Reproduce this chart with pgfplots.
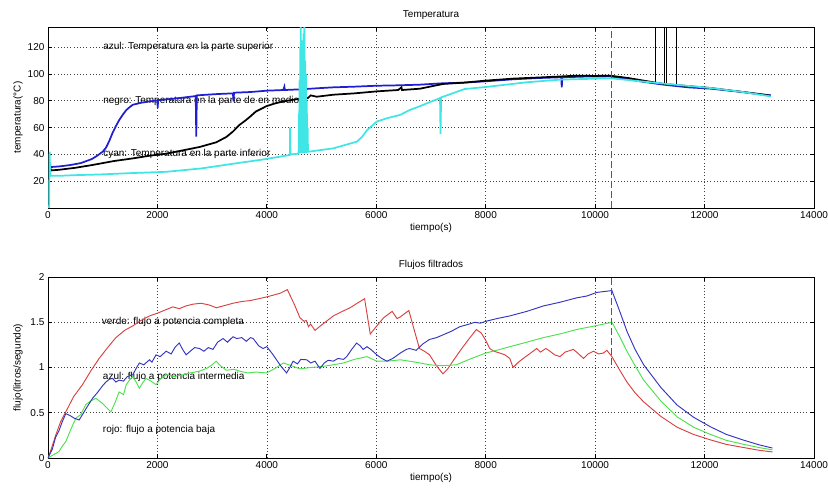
\documentclass[border=0pt]{standalone}
\usepackage{fontspec}
\setmainfont{Liberation Sans}
\usepackage{pgfplots}
\pgfplotsset{compat=1.18}
\definecolor{tblue}{rgb}{0.12,0.12,0.82}
\definecolor{tcyan}{rgb}{0.25,0.9,0.9}
\definecolor{fred}{rgb}{0.85,0.25,0.25}
\definecolor{fgreen}{rgb}{0.3,0.88,0.3}
\definecolor{fblue}{rgb}{0.2,0.2,0.75}
\pgfplotsset{mstyle/.style={
  scale only axis, width=574.5pt, height=135.75pt,
  xmin=0, xmax=14000, xtick={0,2000,...,14000},
  grid=major, major grid style={dotted, black!75, line width=0.5pt},
  tick align=inside, xtick pos=both, ytick pos=both,
  major tick length=3pt, axis line style={line width=0.6pt},
  tick style={black, line width=0.6pt},
  scaled ticks=false,
  /pgf/number format/1000 sep={},
  /pgf/number format/assume math mode=true,
  every axis title shift=0pt,
  xlabel style={at={(axis description cs:0.5,-0.11)}, anchor=center},
  ylabel style={at={(axis description cs:-0.039,0.5)}, anchor=center},
  title style={at={(axis description cs:0.5,1.066)}, anchor=center},
  clip=true,
}}
\begin{document}
\fontsize{7.5}{9}\selectfont
\begin{tikzpicture}
\useasboundingbox (0,0) rectangle (621pt,365.25pt);
% ---------------- Top axis ----------------
\begin{axis}[mstyle, at={(36pt,209.25pt)}, anchor=south west,
  ymin=0, ymax=135, ytick={20,40,...,120},
  title={Temperatura}, xlabel={tiempo(s)}, ylabel={temperatura(°C)}]
\node[anchor=west, inner sep=0pt] at (axis cs:1005,120) {azul: Temperatura en la parte superior};
\node[anchor=west, inner sep=0pt] at (axis cs:1005,80) {negro: Temperatura en la parte de en medio};
\node[anchor=west, inner sep=0pt] at (axis cs:1005,40) {cyan: Temperatura en la parte inferior};
\addplot[tblue, line width=1.3pt] coordinates {
(30,30.5) (200,31) (400,32) (600,33.5) (800,36.5) (900,39) (1000,42) (1060,45) (1120,50) (1180,56) (1240,61) (1300,65.5) (1365,69.5) (1430,73) (1500,75.5) (1550,77) (1700,78.5) (1855,79.5) (2000,80.3) (2005,74.5) (2012,80.5) (2160,81) (2400,82) (2700,83.5) (2710,53.2) (2720,84) (2900,84.5) (3100,85) (3380,85.5) (3390,79.5) (3400,86) (3700,86.5) (3995,87.5) (4300,88) (4320,90.5) (4330,88) (4600,88.5) (5000,89.5) (5215,90) (5600,90.5) (6010,91.2) (6400,91.5) (6800,92) (7200,93) (7600,93.5) (8000,94.5) (8500,96) (9000,97) (9380,97.5) (9390,90) (9400,97.5) (9800,98) (10275,98.2) (10600,96) (10900,94) (11250,92) (11700,90) (12110,89) (12700,86.5) (13211,84)};
\addplot[black, line width=1.3pt] coordinates {
(30,27.5) (40,33) (50,28) (200,28.5) (500,30) (800,32) (935,33) (1200,35) (1550,37) (1855,39) (2160,40.5) (2465,43) (2770,45.5) (3075,49) (3260,53) (3380,57) (3500,62) (3600,65) (3690,68) (3800,72) (3995,76) (4150,78) (4300,79.5) (4600,81.5) (4750,82) (4800,84) (4910,83) (5215,84.5) (5600,85.5) (6010,87) (6400,88) (6460,90) (6470,88) (6800,89) (7217,92.5) (7600,93.5) (8000,95) (8500,96.5) (9052,97.5) (9664,98.7) (10000,98.5) (10275,98.7) (10600,97) (10887,95) (11254,92.5) (12110,89.5) (12700,86.5) (13211,83.75)};
\addplot[black, line width=0.6pt] coordinates {(11110,93.7) (11110,140)};
\addplot[black, line width=0.6pt] coordinates {(11267,92.5) (11267,140)};
\addplot[black, line width=0.6pt] coordinates {(11298,92.3) (11298,140)};
\addplot[black, line width=1.4pt] coordinates {(11305,107) (11305,117)};
\addplot[black, line width=0.8pt] coordinates {(11493,91.4) (11493,140)};
\addplot[tcyan, line width=1.3pt] coordinates {
(20,0) (30,42) (40,24) (200,24) (500,24.5) (935,25) (1500,26) (2160,27) (2800,29.5) (3380,33) (3900,36) (4420,39.5) (4425,60) (4432,40) (4580,40.5)
(4585,70) (4590,41) (4597,95) (4603,41) (4610,120) (4615,41) (4620,160) (4625,41) (4632,125) (4638,41) (4645,110) (4650,41) (4657,120) (4663,41) (4670,130) (4675,41) (4686,160) (4692,41) (4700,110) (4706,41) (4715,100) (4721,41) (4730,80) (4736,42) (4745,60) (4752,42)
(4760,42) (5215,44.5) (5645,49.5) (5740,53) (5830,58) (6010,64.5) (6200,67) (6440,69.5) (6606,73) (6800,76) (7165,82) (7174,55.2) (7185,82.5) (7615,88.75) (8000,90.25) (8746,93.75) (9358,95.75) (10275,96.75) (10600,95.5) (10887,94.25) (11500,91.8) (12110,89.5) (12700,86.5) (13211,83.25)};
\addplot[black!65, line width=1pt, dash pattern=on 5pt off 2.5pt] coordinates {(10300,0) (10300,135)};
\end{axis}
% ---------------- Bottom axis ----------------
\begin{axis}[mstyle, at={(36pt,21.75pt)}, anchor=south west,
  ymin=0, ymax=2, ytick={0,0.5,1,1.5,2},
  title={Flujos filtrados}, xlabel={tiempo(s)}, ylabel={flujo(litros/segundo)}]
\node[anchor=west, inner sep=0pt] at (axis cs:980,1.5) {verde: flujo a potencia completa};
\node[anchor=west, inner sep=0pt] at (axis cs:1000,0.90) {azul: flujo a potencia intermedia};
\node[anchor=west, inner sep=0pt] at (axis cs:1000,0.307) {rojo: flujo a potencia baja};
\addplot[fred, line width=0.7pt] coordinates {
(0,0) (60,0.1) (140,0.25) (230,0.4) (325,0.51) (470,0.68) (630,0.81) (780,0.96) (935,1.10) (1090,1.22) (1240,1.33) (1400,1.41) (1550,1.46) (1700,1.52) (1855,1.57) (2000,1.6) (2160,1.64) (2280,1.67) (2400,1.65) (2520,1.68) (2650,1.70) (2800,1.71) (2950,1.69) (3075,1.66) (3200,1.68) (3380,1.71) (3550,1.73) (3700,1.74) (3850,1.76) (3995,1.78) (4120,1.80) (4240,1.82) (4375,1.86) (4500,1.70) (4605,1.55) (4680,1.51) (4720,1.52) (4760,1.45) (4800,1.48) (4880,1.41) (5000,1.47) (5215,1.57) (5380,1.62) (5520,1.66) (5650,1.71) (5786,1.76) (5890,1.37) (6010,1.46) (6135,1.55) (6290,1.62) (6380,1.54) (6440,1.56) (6595,1.63) (6700,1.40) (6789,1.21) (6880,1.18) (6973,1.14) (7100,1.02) (7217,0.93) (7300,0.98) (7400,1.07) (7550,1.20) (7700,1.32) (7829,1.42) (7920,1.38) (8000,1.30) (8073,1.21) (8150,1.18) (8257,1.16) (8350,1.14) (8440,1.10) (8500,1.0) (8600,1.06) (8685,1.10) (8800,1.15) (8930,1.21) (9000,1.17) (9100,1.21) (9174,1.18) (9260,1.14) (9358,1.12) (9450,1.17) (9602,1.20) (9700,1.15) (9786,1.10) (9870,1.15) (9970,1.18) (10060,1.15) (10153,1.16) (10214,1.19) (10306,1.12) (10450,0.97) (10581,0.84) (10730,0.72) (10887,0.62) (11200,0.46) (11498,0.34) (11800,0.26) (12110,0.20) (12400,0.15) (12721,0.115) (13000,0.085) (13241,0.067)};
\addplot[fgreen, line width=0.7pt] coordinates {
(0,0) (80,0.03) (140,0.05) (200,0.07) (260,0.13) (325,0.18) (420,0.32) (508,0.44) (600,0.48) (690,0.59) (780,0.63) (875,0.66) (1000,0.6) (1150,0.51) (1230,0.62) (1300,0.73) (1380,0.7) (1430,0.81) (1500,0.87) (1550,0.90) (1620,0.83) (1670,0.77) (1730,0.83) (1790,0.88) (1880,0.85) (1975,0.81) (2050,0.87) (2160,0.92) (2300,0.9) (2465,0.92) (2600,0.94) (2770,0.96) (2900,0.99) (3000,1.03) (3075,1.07) (3150,1.02) (3260,0.97) (3400,0.98) (3500,0.96) (3650,0.94) (3800,0.95) (3995,0.94) (4150,0.99) (4300,1.05) (4450,1.02) (4605,0.985) (4800,1.0) (5000,1.01) (5215,1.03) (5400,1.05) (5600,1.09) (5830,1.12) (5900,1.1) (6010,1.07) (6200,1.07) (6440,1.085) (6606,1.07) (6800,1.05) (6973,1.03) (7200,1.02) (7462,1.03) (7700,1.09) (8000,1.16) (8200,1.19) (8440,1.23) (8750,1.28) (9052,1.33) (9350,1.37) (9664,1.42) (10000,1.46) (10306,1.50) (10450,1.34) (10581,1.18) (10730,1.02) (10887,0.86) (11200,0.63) (11498,0.455) (11800,0.34) (12110,0.26) (12400,0.195) (12721,0.15) (13000,0.115) (13241,0.09)};
\addplot[fblue, line width=0.7pt] coordinates {
(0,0) (80,0.1) (140,0.23) (200,0.3) (260,0.4) (325,0.49) (400,0.47) (480,0.44) (570,0.42) (650,0.5) (730,0.58) (815,0.66) (900,0.72) (1000,0.8) (1060,0.84) (1120,0.87) (1180,0.88) (1240,0.84) (1300,0.86) (1380,0.85) (1450,0.9) (1550,0.92) (1620,1.0) (1670,1.05) (1750,1.03) (1855,1.085) (1900,1.06) (1975,1.14) (2050,1.12) (2160,1.18) (2250,1.15) (2330,1.23) (2400,1.27) (2460,1.2) (2525,1.14) (2600,1.18) (2680,1.22) (2770,1.21) (2850,1.18) (2930,1.22) (3015,1.20) (3100,1.28) (3200,1.32) (3280,1.28) (3380,1.34) (3450,1.32) (3540,1.33) (3625,1.29) (3700,1.33) (3750,1.32) (3850,1.24) (3930,1.21) (4000,1.23) (4115,1.14) (4250,1.02) (4360,0.94) (4420,1.0) (4480,1.07) (4560,1.04) (4620,1.09) (4730,1.085) (4800,1.05) (4880,1.07) (4970,0.99) (5050,1.05) (5120,1.08) (5215,1.07) (5300,1.10) (5400,1.09) (5460,1.12) (5550,1.2) (5640,1.27) (5705,1.24) (5760,1.20) (5830,1.23) (5900,1.2) (6010,1.14) (6100,1.10) (6195,1.07) (6300,1.10) (6440,1.16) (6550,1.20) (6606,1.21) (6728,1.19) (6850,1.26) (6973,1.31) (7100,1.33) (7217,1.36) (7370,1.40) (7523,1.45) (7700,1.48) (7800,1.50) (7900,1.49) (8000,1.51) (8200,1.54) (8440,1.57) (8750,1.62) (9052,1.68) (9350,1.72) (9664,1.77) (9850,1.79) (10031,1.83) (10306,1.85) (10450,1.62) (10581,1.40) (10730,1.20) (10887,1.03) (11200,0.78) (11498,0.585) (11800,0.45) (12110,0.344) (12400,0.26) (12721,0.196) (13000,0.145) (13241,0.11)};
\addplot[black!65, line width=1pt, dash pattern=on 5pt off 2.5pt] coordinates {(10300,1.03) (10300,2)};
\end{axis}
\end{tikzpicture}
\end{document}
